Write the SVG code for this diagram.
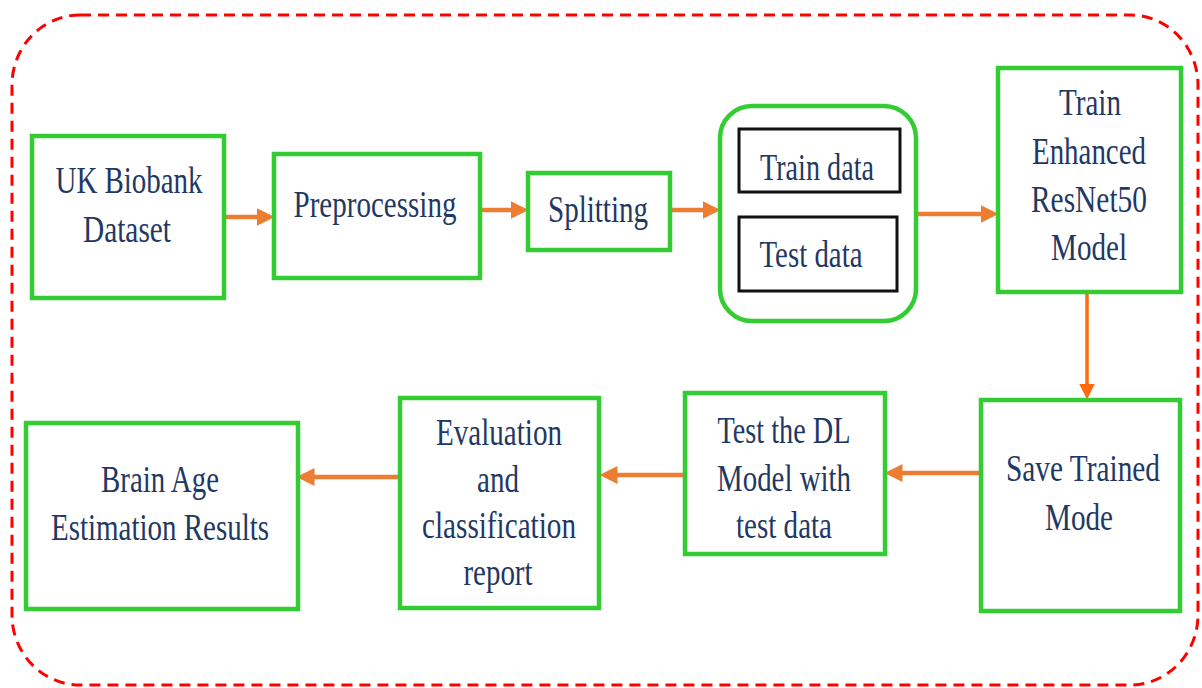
<svg xmlns="http://www.w3.org/2000/svg" width="1202" height="688" viewBox="0 0 1202 688">
<style>
.n{fill:#fff;stroke:#33cc33;stroke-width:4.5}
.b{fill:#fff;stroke:#111;stroke-width:3}
.t{font-size:37.5px;fill:#1f3864;text-anchor:middle}
.c{stroke:#ed7d31;stroke-width:4.5;fill:none}
.c2{stroke:#ff6a10;stroke-width:3.5;fill:none}
</style>
<defs>
<marker id="ah" markerWidth="4" markerHeight="4" refX="3" refY="2" orient="auto" markerUnits="strokeWidth" viewBox="0 0 4 4"><path d="M0,0 L4,2 L0,4 z" fill="#ed7d31"/></marker>
<marker id="ah2" markerWidth="4.5" markerHeight="4.5" refX="3.5" refY="2.25" orient="auto" markerUnits="strokeWidth" viewBox="0 0 4.5 4.5"><path d="M0,0 L4.5,2.25 L0,4.5 z" fill="#ff6a10"/></marker>
</defs>
<rect width="1202" height="688" fill="#fff"/>
<rect id="frame" x="12" y="15" width="1186" height="670" rx="68" ry="70" fill="none" stroke="#ff0000" stroke-width="3" stroke-dasharray="11 7"/>

<g id="connectors">
<line class="c" x1="226" y1="217" x2="270" y2="217" marker-end="url(#ah)"/>
<line class="c" x1="481" y1="210" x2="524" y2="210" marker-end="url(#ah)"/>
<line class="c" x1="672" y1="210" x2="716" y2="210" marker-end="url(#ah)"/>
<line class="c" x1="918" y1="214" x2="994" y2="214" marker-end="url(#ah)"/>
<line class="c2" x1="1087" y1="293" x2="1087" y2="396" marker-end="url(#ah2)"/>
<line class="c" x1="979" y1="473" x2="889" y2="473" marker-end="url(#ah)"/>
<line class="c" x1="683" y1="475" x2="604" y2="475" marker-end="url(#ah)"/>
<line class="c" x1="398" y1="477" x2="301" y2="477" marker-end="url(#ah)"/>
</g>

<g font-family="Liberation Serif, Times New Roman, serif">
<g id="uk">
<rect class="n" x="32" y="136" width="192" height="162"/>
<text class="t" x="129" y="193" textLength="147" lengthAdjust="spacingAndGlyphs">UK Biobank</text>
<text class="t" x="127" y="242" textLength="88" lengthAdjust="spacingAndGlyphs">Dataset</text>
</g>

<g id="pre">
<rect class="n" x="274" y="154" width="206" height="124"/>
<text class="t" x="375" y="217" textLength="163" lengthAdjust="spacingAndGlyphs">Preprocessing</text>
</g>

<g id="split">
<rect class="n" x="528" y="173" width="142" height="77"/>
<text class="t" x="598" y="222" textLength="100" lengthAdjust="spacingAndGlyphs">Splitting</text>
</g>

<g id="data">
<rect class="n" x="720" y="106" width="196" height="215" rx="32" ry="32"/>
<g id="train-data">
<rect class="b" x="739" y="129" width="161" height="63"/>
<text class="t" x="817" y="180" textLength="114" lengthAdjust="spacingAndGlyphs">Train data</text>
</g>
<g id="test-data">
<rect class="b" x="739" y="217" width="158" height="74"/>
<text class="t" x="811" y="267" textLength="103" lengthAdjust="spacingAndGlyphs">Test data</text>
</g>
</g>

<g id="trainmodel">
<rect class="n" x="998" y="68" width="183" height="224"/>
<text class="t" x="1090" y="115" textLength="62" lengthAdjust="spacingAndGlyphs">Train</text>
<text class="t" x="1089" y="164" textLength="114" lengthAdjust="spacingAndGlyphs">Enhanced</text>
<text class="t" x="1089" y="212" textLength="116" lengthAdjust="spacingAndGlyphs">ResNet50</text>
<text class="t" x="1089" y="260" textLength="76" lengthAdjust="spacingAndGlyphs">Model</text>
</g>

<g id="save">
<rect class="n" x="981" y="400" width="199" height="211"/>
<text class="t" x="1083" y="481" textLength="154" lengthAdjust="spacingAndGlyphs">Save Trained</text>
<text class="t" x="1079" y="530" textLength="68" lengthAdjust="spacingAndGlyphs">Mode</text>
</g>

<g id="testdl">
<rect class="n" x="685" y="393" width="200" height="161"/>
<text class="t" x="784" y="443" textLength="133" lengthAdjust="spacingAndGlyphs">Test the DL</text>
<text class="t" x="784" y="491" textLength="134" lengthAdjust="spacingAndGlyphs">Model with</text>
<text class="t" x="784" y="538" textLength="96" lengthAdjust="spacingAndGlyphs">test data</text>
</g>

<g id="eval">
<rect class="n" x="400" y="398" width="199" height="210"/>
<text class="t" x="499" y="445" textLength="126" lengthAdjust="spacingAndGlyphs">Evaluation</text>
<text class="t" x="498" y="492" textLength="42" lengthAdjust="spacingAndGlyphs">and</text>
<text class="t" x="499" y="538" textLength="154" lengthAdjust="spacingAndGlyphs">classification</text>
<text class="t" x="498" y="585" textLength="69" lengthAdjust="spacingAndGlyphs">report</text>
</g>

<g id="brain">
<rect class="n" x="26" y="423" width="272" height="186"/>
<text class="t" x="160" y="492" textLength="118" lengthAdjust="spacingAndGlyphs">Brain Age</text>
<text class="t" x="160" y="540" textLength="218" lengthAdjust="spacingAndGlyphs">Estimation Results</text>
</g>
</g>
</svg>
